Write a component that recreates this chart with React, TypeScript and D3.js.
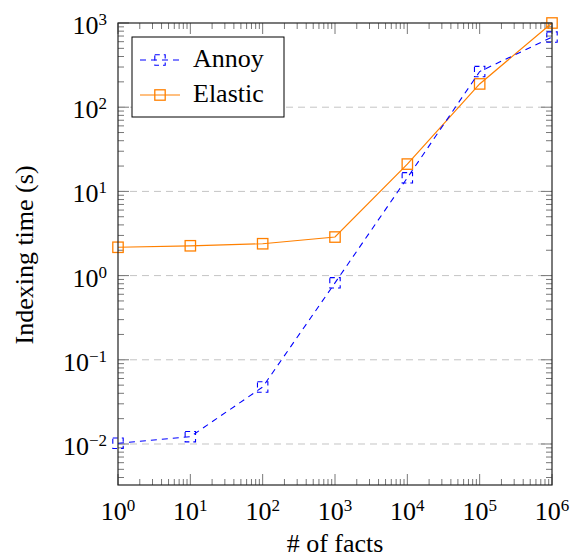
import React from 'react'
import * as d3 from 'd3'

// facts indexed (x) and indexing time in seconds (y)
const facts = [1, 10, 100, 1000, 10000, 100000, 1000000]
const annoy = [0.0102, 0.0122, 0.0475, 0.82, 14.5, 265, 680]
const elastic = [2.17, 2.26, 2.39, 2.87, 21.1, 189, 1000]
const xTicks = [0, 1, 2, 3, 4, 5, 6]
const yTicks = [-2, -1, 0, 1, 2, 3]

const W = 573, H = 557
const left = 118, right = 552, top = 23, bottom = 485
const font = "'Liberation Serif', 'Times New Roman', Times, 'DejaVu Serif', serif"
const blue = '#0000ff', orange = '#ff8000'

export default function App() {
    const x = d3.scaleLog([1, 1e6], [left, right])
    const y = d3.scaleLog([Math.pow(10, -2.487), 1000], [bottom, top])

    const line = d3.line<[number, number]>()
        .x(d => x(d[0]))
        .y(d => y(d[1]))

    const annoyPts: [number, number][] = facts.map((f, i) => [f, annoy[i]])
    const elasticPts: [number, number][] = facts.map((f, i) => [f, elastic[i]])

    // minor ticks 2..9 in every decade within the domain
    const minorX: number[] = []
    xTicks.slice(0, -1).forEach(e => { for (let k = 2; k < 10; k++) minorX.push(k * Math.pow(10, e)) })
    const minorY: number[] = []
    for (let e = -3; e < 3; e++) for (let k = 2; k < 10; k++) {
        const v = k * Math.pow(10, e)
        if (y(v) <= bottom && y(v) >= top) minorY.push(v)
    }

    const tickColor = '#777'
    const sq = 5.2

    return (
        <svg width={W} height={H} style={{ position: 'absolute', left: 0, top: 0, background: '#fff', fontFamily: font }}>
            {/* y grid */}
            {yTicks.filter(e => e < 3).map(e => (
                <line key={'g' + e} x1={left} x2={right} y1={y(Math.pow(10, e))} y2={y(Math.pow(10, e))}
                    stroke="#c4c4c4" strokeWidth={1} strokeDasharray="7 5" />
            ))}

            {/* ticks */}
            <g stroke={tickColor} strokeWidth={1}>
                {minorX.map(v => (
                    <g key={'mx' + v}>
                        <line x1={x(v)} x2={x(v)} y1={bottom} y2={bottom - 6} />
                        <line x1={x(v)} x2={x(v)} y1={top} y2={top + 6} />
                    </g>
                ))}
                {xTicks.map(e => (
                    <g key={'Mx' + e}>
                        <line x1={x(Math.pow(10, e))} x2={x(Math.pow(10, e))} y1={bottom} y2={bottom - 11} />
                        <line x1={x(Math.pow(10, e))} x2={x(Math.pow(10, e))} y1={top} y2={top + 11} />
                    </g>
                ))}
                {minorY.map(v => (
                    <g key={'my' + v}>
                        <line x1={left} x2={left + 6} y1={y(v)} y2={y(v)} />
                        <line x1={right} x2={right - 6} y1={y(v)} y2={y(v)} />
                    </g>
                ))}
                {yTicks.map(e => (
                    <g key={'My' + e}>
                        <line x1={left} x2={left + 11} y1={y(Math.pow(10, e))} y2={y(Math.pow(10, e))} />
                        <line x1={right} x2={right - 11} y1={y(Math.pow(10, e))} y2={y(Math.pow(10, e))} />
                    </g>
                ))}
            </g>

            {/* series */}
            <path d={line(elasticPts) ?? ''} fill="none" stroke={orange} strokeWidth={1.2} />
            {elasticPts.map((d, i) => (
                <rect key={'e' + i} x={x(d[0]) - sq} y={y(d[1]) - sq} width={sq * 2} height={sq * 2}
                    fill="none" stroke={orange} strokeWidth={1.3} />
            ))}
            <path d={line(annoyPts) ?? ''} fill="none" stroke={blue} strokeWidth={1.1} strokeDasharray="6 5" />
            {annoyPts.map((d, i) => (
                <rect key={'a' + i} x={x(d[0]) - sq} y={y(d[1]) - sq} width={sq * 2} height={sq * 2}
                    fill="none" stroke={blue} strokeWidth={1.1} strokeDasharray="5 4" />
            ))}

            {/* frame */}
            <rect x={left} y={top} width={right - left} height={bottom - top} fill="none" stroke="#222" strokeWidth={1.2} />

            {/* tick labels */}
            <g style={{ fontFamily: font }} fill="#000">
                {xTicks.map(e => (
                    <text key={'tx' + e} x={x(Math.pow(10, e))} y={520} textAnchor="middle" fontSize={26}>
                        10<tspan fontSize={17} dy={-9}>{e}</tspan>
                    </text>
                ))}
                {yTicks.map(e => (
                    <text key={'ty' + e} x={107} y={y(Math.pow(10, e)) + 11} textAnchor="end" fontSize={26}>
                        10<tspan fontSize={17} dy={-9}>{e < 0 ? '\u2212' + (-e) : e}</tspan>
                    </text>
                ))}
            </g>

            {/* axis labels */}
            <text x={335} y={552} textAnchor="middle" style={{ fontFamily: font }} fontSize={26}># of facts</text>
            <text transform={`translate(33, 255) rotate(-90)`} textAnchor="middle" style={{ fontFamily: font }} fontSize={26}>
                Indexing time (s)
            </text>

            {/* legend */}
            <g style={{ fontFamily: font }} fontSize={26}>
                <rect x={132} y={37} width={152} height={80} fill="#fff" stroke="#000" strokeWidth={1} />
                <line x1={140} x2={180} y1={60} y2={60} stroke={blue} strokeWidth={1.1} strokeDasharray="6 5" />
                <rect x={160 - sq} y={60 - sq} width={sq * 2} height={sq * 2} fill="none" stroke={blue} strokeWidth={1.1} strokeDasharray="5 4" />
                <text x={193} y={67}>Annoy</text>
                <line x1={140} x2={180} y1={95} y2={95} stroke={orange} strokeWidth={1.2} />
                <rect x={160 - sq} y={95 - sq} width={sq * 2} height={sq * 2} fill="none" stroke={orange} strokeWidth={1.3} />
                <text x={193} y={102}>Elastic</text>
            </g>
        </svg>
    )
}
